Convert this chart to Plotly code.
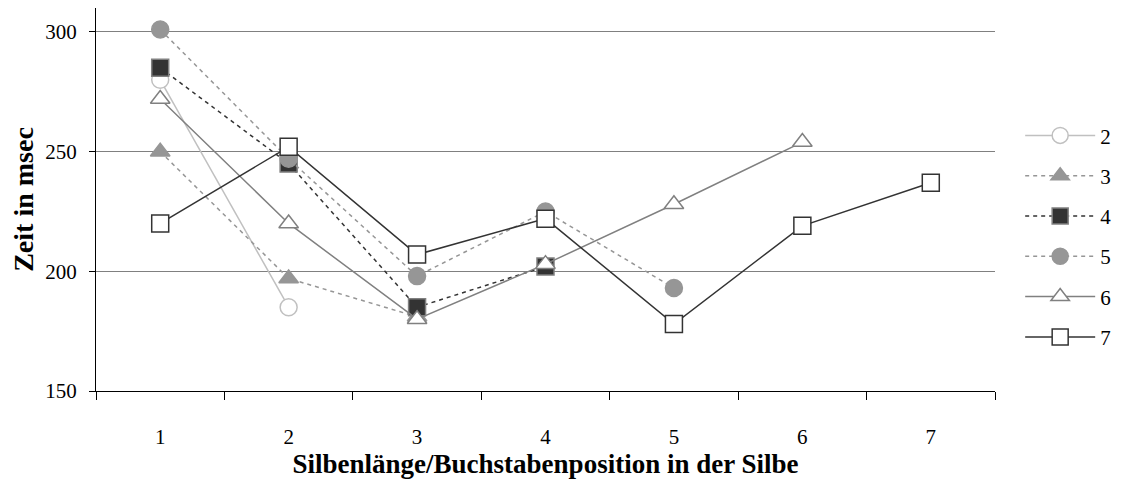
import plotly.graph_objects as go

# Silbenlänge 2..7, Zeit in msec je Buchstabenposition
positions = ["1", "2", "3", "4", "5", "6", "7"]
names = ["2", "3", "4", "5", "6", "7"]
s2 = [280, 185]
s3 = [250, 197, 181]
s4 = [285, 245, 185, 202]
s5 = [301, 247, 198, 225, 193]
s6 = [272, 220, 180, 203, 228, 254]
s7 = [220, 252, 207, 222, 178, 219, 237]
y_ticks = [150, 200, 250, 300]

styles = [
    # line colour, dash, symbol, fill, border
    ("#c0c0c0", "solid", "circle", "white", "#c0c0c0"),
    ("#969696", "4px,4px", "triangle-up", "#969696", "#969696"),
    ("#333333", "4px,4px", "square", "#333333", "#808080"),
    ("#969696", "4px,4px", "circle", "#969696", "#969696"),
    ("#808080", "solid", "triangle-up", "white", "#808080"),
    ("#333333", "solid", "square", "white", "#333333"),
]

fig = go.Figure()
for name, vals, (lc, dash, sym, fill, border) in zip(names, [s2, s3, s4, s5, s6, s7], styles):
    fig.add_trace(go.Scatter(
        x=positions[:len(vals)], y=vals, name=name, mode="lines+markers",
        legendgroup=name,
        line=dict(color=lc, width=1.5, dash=dash),
        marker=dict(symbol=sym, size=17, color=fill, line=dict(color=border, width=1.5)),
    ))

font = "Liberation Serif, Times New Roman, serif"
# page body has an 8px margin, so the figure is a bit smaller than the window
fig.update_layout(
    width=1124, height=478,
    margin=dict(l=88, r=137, t=0, b=95),
    plot_bgcolor="white", paper_bgcolor="white",
    font=dict(family=font, size=21, color="black"),
    showlegend=True,
    legend=dict(x=1.028, y=0.72, xanchor="left", yanchor="top",
                tracegroupgap=10, itemwidth=70, font=dict(size=21)),
)
fig.update_xaxes(
    type="category", range=[-0.5, 6.5], tickson="boundaries",
    ticks="outside", ticklen=8, tickcolor="black",
    showline=True, linecolor="black", linewidth=1, showgrid=False,
    ticklabelstandoff=27,
    title=dict(text="<b>Silbenlänge/Buchstabenposition in der Silbe</b>", standoff=3,
               font=dict(size=27)),
)
fig.update_yaxes(
    range=[150, 310], tickvals=y_ticks, ticks="outside", ticklen=6, tickcolor="black",
    showline=True, linecolor="black", linewidth=1, ticklabelstandoff=8,
    showgrid=True, gridcolor="#808080", gridwidth=1, zeroline=False,
    title=dict(text="<b>Zeit in msec</b>", standoff=6, font=dict(size=28)),
)
fig.write_html("out.html")
